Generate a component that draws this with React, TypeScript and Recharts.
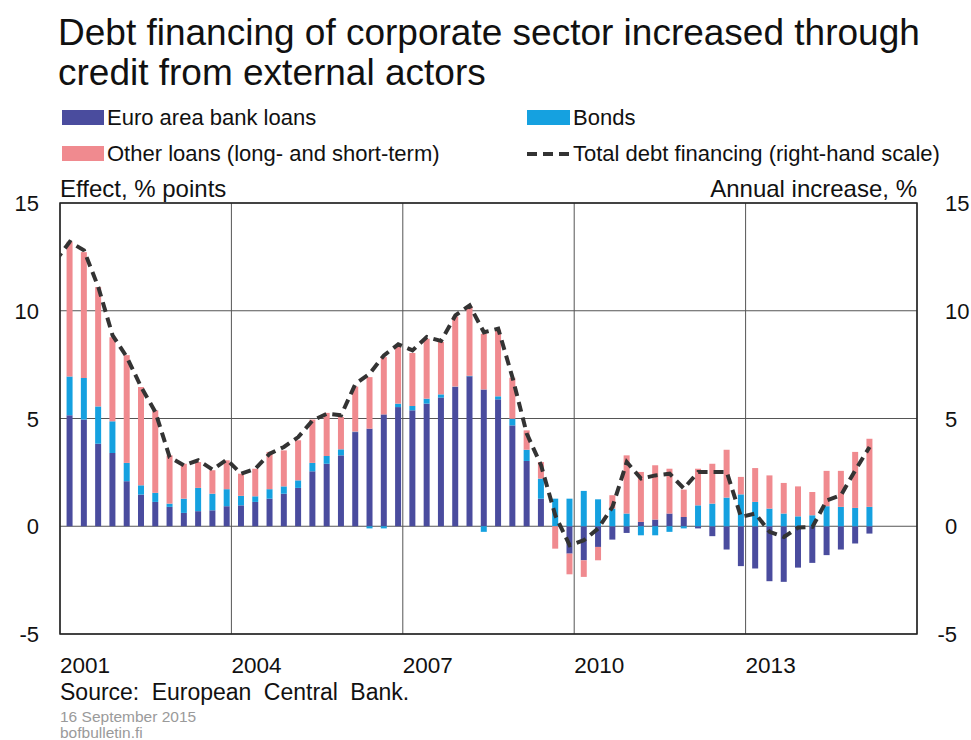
import { Bar, CartesianGrid, ComposedChart, Line, ReferenceArea, XAxis, YAxis } from 'recharts';

const FONT = '"Liberation Sans", Arial, Helvetica, sans-serif';

// quarters, first one only carries the line (it starts left of the axis)
const quarters: string[] = [];
for (let y = 2000; y <= 2015; y++) {
  for (let q = 1; q <= 4; q++) {
    const label = `${y}Q${q}`;
    if (label >= '2000Q4' && label <= '2015Q1') quarters.push(label);
  }
}

const euroAreaBankLoans = [
  null,
  5.15, 4.95, 3.83, 3.4,
  2.09, 1.47, 1.13, 0.9,
  0.62, 0.7, 0.74, 0.93,
  0.97, 1.13, 1.28, 1.51,
  1.78, 2.55, 2.9, 3.29,
  4.37, 4.53, 5.19, 5.53,
  5.38, 5.69, 5.97, 6.46,
  6.96, 6.35, 5.89, 4.68,
  3.03, 1.28, 0, -1.27,
  -1.58, -0.96, -0.62, -0.31,
  0.2, 0.31, 0.59, 0.43,
  -0.1, -0.46, -1.08, -1.85,
  -1.96, -2.55, -2.58, -1.92,
  -1.7, -1.34, -1.08, -0.8,
  -0.34,
];

const bonds = [
  null,
  1.8, 1.93, 1.73, 1.47,
  0.85, 0.43, 0.42, 0.15,
  0.66, 1.08, 0.77, 0.79,
  0.44, 0.26, 0.44, 0.34,
  0.35, 0.39, 0.36, 0.28,
  0.02, -0.1, -0.1, 0.16,
  0.2, 0.23, 0.15, 0.02,
  0.02, -0.26, 0.14, 0.31,
  0.52, 0.93, 1.28, 1.28,
  1.64, 1.25, 0.82, 0.59,
  -0.42, -0.42, -0.26, -0.1,
  0.97, 1.05, 1.33, 1.48,
  1.13, 0.82, 0.59, 0.46,
  0.51, 0.93, 0.9, 0.85,
  0.9,
];

const otherLoans = [
  null,
  6.25, 5.84, 5.54, 3.9,
  5.0, 4.56, 3.83, 2.24,
  1.62, 1.2, 1.09, 1.34,
  1.03, 1.28, 1.73, 1.67,
  1.86, 2.01, 2.0, 1.5,
  2.09, 2.39, 2.66, 2.66,
  2.46, 2.78, 2.43, 3.25,
  3.21, 2.58, 3.09, 1.9,
  0.9, 0.77, -1.04, -0.96,
  -0.77, -0.62, 0.62, 2.7,
  2.32, 2.52, 2.08, 1.27,
  1.7, 1.85, 2.22, 0.81,
  1.57, 1.54, 1.42, 1.39,
  1.08, 1.64, 1.67, 2.6,
  3.16,
];

const totalDebtFinancing = [
  12.3,
  13.2, 12.8, 11.1, 8.86,
  7.85, 6.46, 5.3, 3.2,
  2.83, 3.06, 2.63, 3.09,
  2.44, 2.67, 3.37, 3.68,
  4.14, 4.91, 5.22, 5.15,
  6.6, 7.08, 7.93, 8.44,
  8.16, 8.78, 8.6, 9.78,
  10.25, 9.0, 9.17, 6.9,
  4.3, 2.83, 0.5, -0.88,
  -0.65, -0.1, 0.9, 2.98,
  2.21, 2.36, 2.44, 1.75,
  2.52, 2.52, 2.52, 0.43,
  0.59, -0.26, -0.5, -0.06,
  -0.03, 1.2, 1.44, 2.6,
  3.68,
];

const yearTicks = [2001, 2004, 2007, 2010, 2013, 2016];
const valueTicks = [-5, 0, 5, 10, 15];

const data = quarters.map((q, i) => ({
  t: Number(q.slice(0, 4)) + (Number(q.slice(5)) - 1) / 4 + 0.17,
  euro: euroAreaBankLoans[i],
  bonds: bonds[i],
  other: otherLoans[i],
  total: totalDebtFinancing[i],
}));

const NAVY = '#4a4c9e';
const CYAN = '#15a1e0';
const PINK = '#f08a8f';

function LeftTick(props: any) {
  const { y, payload } = props;
  return (
    <text x={39} y={y + 8} textAnchor="end" fontSize={22} fill="#111" fontFamily={FONT}>
      {payload.value}
    </text>
  );
}

function RightTick(props: any) {
  const { y, payload } = props;
  return (
    <text x={payload.value < 0 ? 937.5 : 945} y={y + 8} textAnchor="start" fontSize={22} fill="#111" fontFamily={FONT}>
      {payload.value}
    </text>
  );
}

function YearTick(props: any) {
  const { x, payload } = props;
  if (payload.value >= 2016) return null;
  return (
    <text x={x} y={673} textAnchor="start" fontSize={22.5} fill="#111" fontFamily={FONT}>
      {payload.value}
    </text>
  );
}

export default function App() {
  return (
    <div style={{ position: 'relative', width: 971, height: 740, background: '#fff' }}>
      <style>{'body{margin:0}'}</style>
      <ComposedChart
        width={971}
        height={740}
        data={data}
        stackOffset="sign"
        margin={{ top: 203, right: 0, bottom: 66, left: 0 }}>
        <CartesianGrid stroke="#555" strokeWidth={1} />
        <XAxis
          dataKey="t"
          type="number"
          domain={[2001, 2016]}
          ticks={yearTicks}
          allowDataOverflow
          height={40}
          axisLine={false}
          tickLine={false}
          tick={<YearTick />}
        />
        <YAxis
          domain={[-5, 15]}
          ticks={valueTicks}
          width={60}
          axisLine={false}
          tickLine={false}
          tick={<LeftTick />}
        />
        <YAxis
          yAxisId="right"
          orientation="right"
          domain={[-5, 15]}
          ticks={valueTicks}
          width={54}
          axisLine={false}
          tickLine={false}
          tick={<RightTick />}
        />
        <ReferenceArea x1={2001} x2={2016} y1={-5} y2={15} fill="none" stroke="#222" strokeWidth={1.5} />
        <Bar dataKey="euro" stackId="a" fill={NAVY} barSize={6} isAnimationActive={false} />
        <Bar dataKey="bonds" stackId="a" fill={CYAN} barSize={6} isAnimationActive={false} />
        <Bar dataKey="other" stackId="a" fill={PINK} barSize={6} isAnimationActive={false} />
        <Line
          yAxisId="right"
          dataKey="total"
          type="linear"
          stroke="#333"
          strokeWidth={4}
          strokeDasharray="10 6"
          dot={false}
          isAnimationActive={false}
        />
      </ComposedChart>
      <svg
        width={971}
        height={740}
        style={{ position: 'absolute', left: 0, top: 0, pointerEvents: 'none' }}
        fontFamily={FONT}>
        <text x={58} y={45} fontSize={37} fill="#111">
          Debt financing of corporate sector increased through
        </text>
        <text x={58} y={85} fontSize={37} fill="#111">
          credit from external actors
        </text>

        <rect x={62} y={110} width={42} height={15} fill={NAVY} />
        <text x={107} y={125} fontSize={22} fill="#111">Euro area bank loans</text>
        <rect x={527} y={110} width={43} height={15} fill={CYAN} />
        <text x={573} y={125} fontSize={22} fill="#111">Bonds</text>
        <rect x={62} y={146} width={42} height={15} fill={PINK} />
        <text x={107} y={161} fontSize={22} fill="#111">Other loans (long- and short-term)</text>
        <line x1={527} y1={154} x2={570} y2={154} stroke="#333" strokeWidth={4} strokeDasharray="10 6" />
        <text x={573} y={161} fontSize={22} fill="#111">Total debt financing (right-hand scale)</text>

        <text x={60} y={197} fontSize={24} fill="#111">Effect, % points</text>
        <text x={917} y={197} fontSize={24} fill="#111" textAnchor="end">Annual increase, %</text>

        <text x={60} y={700} fontSize={23} fill="#111" wordSpacing={6}>Source: European Central Bank.</text>
        <text x={60} y={722} fontSize={15.5} fill="#9a9a9a">16 September 2015</text>
        <text x={60} y={738} fontSize={15.5} fill="#9a9a9a">bofbulletin.fi</text>
      </svg>
    </div>
  );
}
